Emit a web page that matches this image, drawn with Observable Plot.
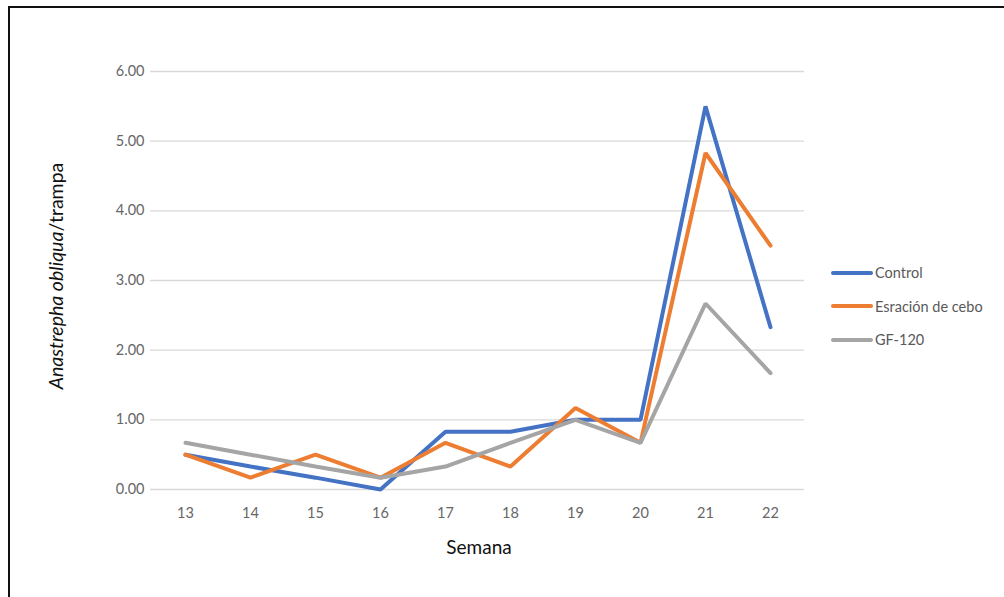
<!DOCTYPE html>
<html>
<head>
<meta charset="utf-8">
<script src="https://cdn.jsdelivr.net/npm/d3@7"></script>
<script src="https://cdn.jsdelivr.net/npm/@observablehq/plot@0.6"></script>
<style>
  html, body { margin: 0; padding: 0; background: #fff; overflow: hidden; }
  #wrap { position: relative; width: 1004px; height: 597px; overflow: hidden; font-family: Lato, "Open Sans", sans-serif; }
  #frame { position: absolute; left: 8px; top: 6px; width: 1100px; height: 700px; border: 2px solid #111; box-shadow: 1px 1px 1px #888; }
  #chart { position: absolute; left: 0; top: 0; }
  #legend { position: absolute; left: 831px; top: 256px; font-size: 14.5px; color: #595959; }
  .item { display: flex; align-items: center; height: 33.5px; }
  .sw { width: 42px; height: 4px; border-radius: 2px; margin-right: 2px; }
</style>
</head>
<body>
<div id="wrap">
  <div id="frame"></div>
  <div id="chart"></div>
  <div id="legend"></div>
</div>
<script>
const weeks = [13, 14, 15, 16, 17, 18, 19, 20, 21, 22];
const control = [0.5, 0.33, 0.17, 0.0, 0.83, 0.83, 1.0, 1.0, 5.5, 2.33];
const esracion = [0.5, 0.17, 0.5, 0.17, 0.67, 0.33, 1.17, 0.67, 4.83, 3.5];
const gf120 = [0.67, 0.5, 0.33, 0.17, 0.33, 0.67, 1.0, 0.67, 2.67, 1.67];
const seriesNames = ["Control", "Esración de cebo", "GF-120"];
const seriesColors = ["#4472C4", "#ED7D31", "#A5A5A5"];
const yTicks = [0, 1, 2, 3, 4, 5, 6];

const seriesValues = [control, esracion, gf120];
const data = seriesNames.flatMap((name, s) =>
  weeks.map((w, i) => ({ week: w, value: seriesValues[s][i], series: name }))
);

const plot = Plot.plot({
  width: 1004,
  height: 597,
  marginLeft: 150,
  marginRight: 200,
  marginTop: 71,
  marginBottom: 108,
  style: { fontFamily: "Lato, 'Open Sans', sans-serif", fontSize: "14.5px", color: "#595959", background: "transparent", overflow: "visible" },
  x: { type: "point", domain: weeks, padding: 0.5, label: null },
  y: { domain: [0, 6], label: null },
  color: { domain: seriesNames, range: seriesColors },
  marks: [
    Plot.ruleY(yTicks, { stroke: "#d9d9d9", strokeWidth: 1.3 }),
    Plot.axisX({ tickSize: 0, tickPadding: 18, label: null, fill: "#666" }),
    Plot.axisY({ ticks: yTicks, tickSize: 0, tickPadding: 6, tickFormat: d => d.toFixed(2), label: null, fill: "#666" }),
    Plot.line(data, { x: "week", y: "value", stroke: "series", z: "series", strokeWidth: 4, strokeLinejoin: "miter", strokeLinecap: "round" })
  ]
});
document.getElementById("chart").appendChild(plot);

const svg = d3.select(plot);
const xr = plot.scale("x").range;
const yr = plot.scale("y").range;
svg.append("text")
  .attr("x", (xr[0] + xr[1]) / 2 + 2)
  .attr("y", 554)
  .attr("text-anchor", "middle")
  .attr("font-size", 19)
  .attr("font-weight", 400)
  .attr("fill", "#111")
  .text("Semana");

const yt = svg.append("text")
  .attr("transform", `translate(63,${(yr[0] + yr[1]) / 2 - 4}) rotate(-90)`)
  .attr("text-anchor", "middle")
  .attr("font-size", 19.5)
  .attr("font-weight", 400)
  .attr("fill", "#111");
yt.append("tspan").attr("font-style", "italic").text("Anastrepha obliqua");
yt.append("tspan").text("/trampa");

const legend = document.getElementById("legend");
seriesNames.forEach((name, i) => {
  const item = document.createElement("div");
  item.className = "item";
  const sw = document.createElement("div");
  sw.className = "sw";
  sw.style.background = seriesColors[i];
  const label = document.createElement("span");
  label.textContent = name;
  item.appendChild(sw);
  item.appendChild(label);
  legend.appendChild(item);
});
</script>
</body>
</html>
